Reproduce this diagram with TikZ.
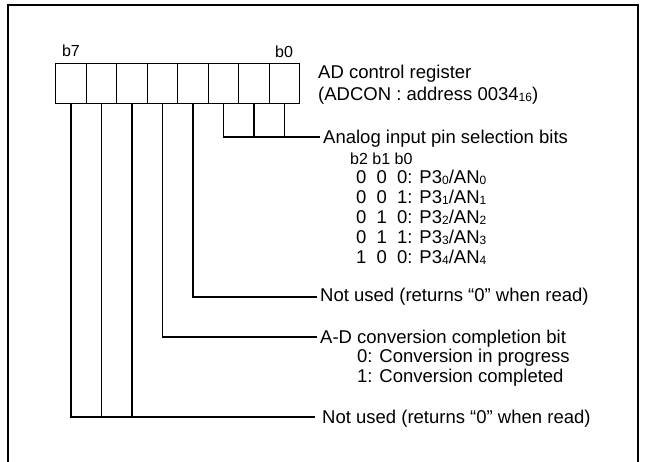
\documentclass[tikz,border=0pt]{standalone}
\usepackage{fontspec}
\setmainfont{Liberation Sans}
\newcommand{\lowsub}[1]{\raisebox{-1pt}{\fontsize{12}{12}\selectfont #1}}
\newcommand{\dg}[1]{\makebox[20.5pt][l]{#1}}
\begin{document}
\begin{tikzpicture}[x=1pt,y=-1pt,
  bitbox/.style={draw, line width=1.3pt, minimum width=30.5pt, minimum height=40pt, inner sep=0pt, anchor=north west},
  conn/.style={line width=1.3pt},
  lbl/.style={anchor=base west, inner sep=0pt, font=\fontsize{18.5}{20}\selectfont},
  small/.style={anchor=base, inner sep=0pt, font=\fontsize{16}{18}\selectfont},
  smallw/.style={anchor=base west, inner sep=0pt, font=\fontsize{16}{18}\selectfont}]
\useasboundingbox (0,0) rectangle (645,461);
% outer frame
\draw[line width=2pt] (8,475) -- (8,5) -- (638,5) -- (638,475);
% register
\foreach \i in {0,...,7} \node[bitbox] (r\i) at ({55+30.5*(7-\i)},63) {};
\node[small] (lb7) at (71,56) {b7};
\node[small] (lb0) at (284,57) {b0};
\node[lbl] (title) at (318,78) {AD control register};
\node[lbl] (addr) at (318,100) {(ADCON : address 0034\lowsub{16})};
% analog input selection
\coordinate (aend) at (320,137);
\draw[conn] (r2.south) |- (aend);
\draw[conn] (r1.south) -- (r1.south |- aend);
\draw[conn] (r0.south) -- (r0.south |- aend);
\node[lbl] (ana) at (323,143) {Analog input pin selection bits};
\node[smallw] (hdr) at (350,164) {b2 b1 b0};
\node[lbl] (row0) at (356,183) {\dg{0}\dg{0}0: P3\lowsub{0}/AN\lowsub{0}};
\node[lbl] (row1) at (356,203) {\dg{0}\dg{0}1: P3\lowsub{1}/AN\lowsub{1}};
\node[lbl] (row2) at (356,223) {\dg{0}\dg{1}0: P3\lowsub{2}/AN\lowsub{2}};
\node[lbl] (row3) at (356,243) {\dg{0}\dg{1}1: P3\lowsub{3}/AN\lowsub{3}};
\node[lbl] (row4) at (356,263) {\dg{1}\dg{0}0: P3\lowsub{4}/AN\lowsub{4}};
% bit 3
\coordinate (n1end) at (317,297);
\draw[conn] (r3.south) |- (n1end);
\node[lbl] (nu1) at (320,301) {Not used (returns “0” when read)};
% bit 4
\coordinate (adend) at (317,337);
\draw[conn] (r4.south) |- (adend);
\node[lbl] (ad) at (320,343) {A-D conversion completion bit};
\node[lbl] (ad0) at (357,362) {0: Conversion in progress};
\node[lbl] (ad1) at (357,382) {1: Conversion completed};
% bits 7-5
\coordinate (n2end) at (315,417);
\draw[conn] (r7.south) |- (n2end);
\draw[conn] (r6.south) -- (r6.south |- n2end);
\draw[conn] (r5.south) -- (r5.south |- n2end);
\node[lbl] (nu2) at (322,423) {Not used (returns “0” when read)};
\end{tikzpicture}
\end{document}
